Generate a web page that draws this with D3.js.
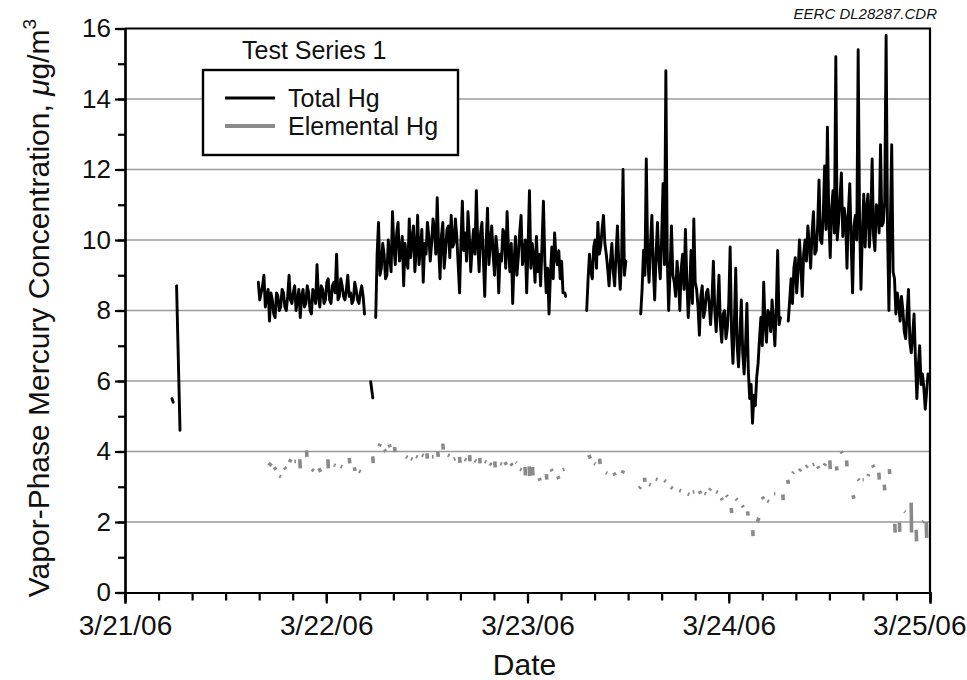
<!DOCTYPE html>
<html>
<head>
<meta charset="utf-8">
<script src="https://cdn.jsdelivr.net/npm/d3@7"></script>
<style>
  body { margin: 0; background: #fff; }
  text { font-family: "Liberation Sans", Arial, Helvetica, sans-serif; fill: #111; }
</style>
</head>
<body>
<div id="vis"></div>
<script>
// SVG geometry
var width = 967;
var height = 680;
var margin = { top: 28.5, left: 125, bottom: 87.5, right: 37 };
var w = width - margin.left - margin.right,
  h = height - margin.top - margin.bottom;

// data: hours after 3/21/06 00:00, 10-minute logger readings
var day0 = new Date(2006, 2, 21);
var dayEnd = new Date(2006, 2, 25);
var step = 1 / 6;

var totalC = [8.8, 8.3, 8.5, 8.7, 9.0, 8.1, 8.4, 8.6, 7.7, 8.5,
  8.3, 7.9, 7.8, 8.5, 8.4, 8.0, 8.1, 8.6, 8.5, 8.1,
  8.0, 8.4, 9.0, 8.3, 8.2, 8.5, 8.7, 8.0, 8.3, 8.6,
  7.8, 8.4, 8.6, 8.1, 8.2, 8.7, 8.5, 8.0, 7.9, 8.6,
  8.4, 8.2, 9.3, 8.4, 8.1, 8.7, 8.6, 8.2, 8.3, 8.8,
  8.9, 8.3, 8.2, 8.7, 8.8, 8.5, 9.6, 8.3, 8.4, 8.9,
  8.7, 8.4, 8.3, 8.6, 9.0, 8.4, 8.5, 8.2, 8.3, 8.8,
  8.6, 8.3, 8.2, 8.5, 8.7, 8.4, 7.9];
var totalE = [7.8, 9.6, 10.5, 9.0, 9.2, 9.9, 9.6, 8.9, 9.0, 10.0, 9.5, 9.1, 10.8, 9.8, 9.3,
  10.2, 10.5, 9.4, 9.6, 10.1, 8.7, 9.9, 9.4, 9.2, 10.6, 9.5, 10.0, 10.4, 9.1, 9.7, 10.7,
  9.3, 9.8, 10.3, 8.8, 9.9, 9.6, 10.5, 10.1, 9.4, 9.9, 10.6, 10.3, 9.6, 11.2, 9.8, 8.9,
  10.1, 10.5, 9.2, 9.7, 10.3, 10.4, 9.5, 10.7, 9.8, 9.9, 10.6, 10.1, 9.3, 8.5, 10.0, 11.1,
  9.7, 10.2, 9.4, 10.8, 10.1, 9.1, 9.8, 10.3, 9.6, 11.4, 9.9, 9.1, 10.2, 10.5, 9.5, 8.4,
  9.9, 10.9, 9.3, 9.9, 10.4, 9.6, 9.0, 10.1, 9.7, 8.5, 9.6, 9.4, 10.3, 10.2, 9.2, 10.8,
  9.7, 9.1, 9.9, 8.2, 9.4, 10.1, 9.0, 9.5, 10.2, 10.7, 9.3, 9.6, 10.0, 8.5, 9.8, 11.4,
  9.2, 9.9, 9.5, 8.8, 10.1, 9.1, 9.6, 8.7, 9.9, 11.1, 9.4, 8.5, 9.2, 7.9, 9.0, 9.8, 8.9,
  10.2, 9.5, 9.3, 9.7, 8.9, 9.4, 8.5];
var totalG = [8.0, 8.9, 9.6, 9.1, 8.9, 9.8, 10.0, 9.2, 10.5, 9.6, 9.8, 10.3, 10.7, 9.9, 9.6,
  9.2, 8.7, 9.4, 9.9, 9.1, 8.7, 9.6, 10.4, 9.3, 8.6, 9.5, 12.0, 9.0, 9.4];
var totalH = [7.9, 8.6, 9.7, 9.0, 12.3, 9.5, 8.8, 9.9, 10.7, 9.2, 8.3, 9.6, 10.5, 9.4, 8.9,
  10.1, 11.6, 9.3, 14.8, 9.5, 8.0, 9.1, 10.4, 9.0, 8.8, 8.4, 9.4, 8.9, 8.0, 9.2, 9.6, 8.6,
  10.3, 8.9, 7.8, 8.5, 9.7, 8.2, 10.6, 8.8, 8.6, 8.1, 7.3, 8.4, 8.7, 7.8, 8.0, 8.5, 8.6,
  8.2, 7.6, 8.3, 9.4, 8.0, 7.4, 8.1, 9.0, 7.6, 7.1, 7.9, 8.0, 7.2, 7.5, 8.2, 9.8, 7.4, 6.5,
  7.6, 9.2, 7.0, 6.4, 7.3, 8.3, 6.8, 6.2, 7.0, 8.2, 6.3, 5.5, 5.9, 4.8, 5.6, 5.3, 6.1, 6.5,
  7.2, 7.8, 7.0, 8.8, 7.6, 7.1, 8.0, 7.9, 7.4, 8.3, 7.7, 7.0, 8.1, 9.7, 7.6, 7.8];
var totalI = [7.7, 8.3, 8.9, 8.2, 9.2, 9.5, 8.5, 9.1, 10.0, 9.3, 8.4, 9.6, 10.0, 9.4, 10.4,
  9.9, 9.2, 10.2, 10.8, 9.6, 9.7, 10.4, 11.7, 10.0, 9.9, 10.7, 12.1, 10.3, 13.2, 10.6, 9.5,
  10.9, 11.4, 10.2, 15.2, 10.0, 10.5, 11.2, 11.9, 10.1, 10.9, 10.6, 9.2, 10.8, 11.6, 9.9,
  8.5, 10.4, 10.7, 10.0, 15.4, 10.6, 8.6, 10.2, 11.3, 9.8, 10.9, 11.3, 9.8, 10.5, 12.3,
  10.1, 9.7, 11.0, 10.9, 10.2, 12.7, 10.4, 10.5, 11.1, 15.8, 10.3, 8.0, 10.4, 12.7, 9.1,
  8.9, 7.9, 8.5, 8.2, 7.7, 8.4, 8.0, 7.4, 7.2, 7.9, 8.6, 7.1, 6.8, 7.3, 7.9, 6.6, 5.5,
  6.4, 7.0, 5.9, 6.2, 5.8, 5.2, 5.7, 6.2];
var totalStarts = [15.9, 29.9, 55.06, 61.5, 79.1];
// isolated short readings [hour, value]
var totalShort = [
  [[5.6, 5.5], [5.75, 5.4]],
  [[6.15, 8.7], [6.56, 4.6]],
  [[29.3, 5.98], [29.55, 5.52]],
  [[52.45, 8.5], [52.55, 8.4]]
];

// elemental Hg pieces [hour1, value1, hour2, value2]
var elemPieces = [
  [17.1, 3.67, 17.5, 3.6], [17.8, 3.55, 18.0, 3.48], [18.4, 3.3, 18.6, 3.28], [19.0, 3.55, 19.2, 3.5],
  [19.6, 3.7, 19.8, 3.78], [20.2, 3.72, 20.4, 3.72], [20.85, 3.78, 20.9, 3.52], [21.65, 4.03, 21.7, 3.85],
  [22.3, 3.5, 22.5, 3.45], [23.1, 3.52, 23.35, 3.42], [24.2, 3.78, 24.25, 3.52], [24.9, 3.62, 25.1, 3.6],
  [25.7, 3.58, 25.9, 3.56], [26.75, 3.82, 26.8, 3.66], [27.35, 3.55, 27.45, 3.45], [27.9, 3.45, 28.1, 3.42],
  [29.55, 3.86, 29.6, 3.67], [30.3, 4.15, 30.45, 4.22], [30.9, 4.05, 31.1, 4.0], [31.5, 4.2, 31.65, 4.12],
  [32.15, 4.13, 32.2, 3.98], [33.5, 3.86, 33.7, 3.83], [34.1, 3.8, 34.3, 3.78], [34.7, 3.86, 34.9, 3.84],
  [35.4, 3.9, 35.6, 3.88], [36.0, 3.95, 36.05, 3.8], [36.6, 3.85, 36.8, 3.85], [37.3, 4.0, 37.35, 3.85],
  [37.9, 4.22, 37.95, 4.05], [38.5, 3.9, 38.7, 3.88], [39.2, 3.78, 39.4, 3.8], [39.9, 3.85, 39.95, 3.68],
  [40.5, 3.78, 40.7, 3.75], [41.1, 3.9, 41.15, 3.72], [41.7, 3.75, 41.9, 3.72], [42.3, 3.82, 42.35, 3.66],
  [42.9, 3.72, 43.1, 3.7], [43.5, 3.66, 43.7, 3.62], [44.1, 3.72, 44.15, 3.55],
  [44.75, 3.66, 44.95, 3.64], [45.3, 3.7, 45.5, 3.62], [46.0, 3.66, 46.2, 3.6], [46.6, 3.7, 46.7, 3.68],
  [47.1, 3.5, 47.3, 3.48], [47.7, 3.56, 47.75, 3.32], [48.2, 3.58, 48.25, 3.3], [48.6, 3.56, 48.65, 3.32],
  [49.4, 3.25, 49.5, 3.17], [50.25, 3.36, 50.3, 3.2], [50.8, 3.5, 50.95, 3.44], [51.6, 3.3, 51.75, 3.22],
  [52.2, 3.48, 52.4, 3.5],
  [55.3, 3.9, 55.5, 3.8], [55.95, 3.66, 56.1, 3.64], [56.6, 3.8, 56.65, 3.64], [57.35, 3.4, 57.5, 3.38],
  [58.3, 3.4, 58.45, 3.32], [59.3, 3.38, 59.45, 3.46],
  [61.3, 2.95, 61.5, 3.0], [61.95, 3.26, 62.0, 3.14], [62.5, 3.07, 62.7, 3.05], [63.3, 3.22, 63.5, 3.2],
  [64.3, 3.18, 64.5, 3.15], [65.1, 2.99, 65.3, 2.95], [66.1, 2.9, 66.3, 2.88], [67.1, 2.8, 67.3, 2.78],
  [67.7, 2.85, 67.9, 2.86], [68.5, 2.88, 68.65, 2.8], [69.1, 2.82, 69.3, 2.8], [69.7, 2.9, 69.85, 2.95],
  [70.5, 2.86, 70.7, 2.84], [71.1, 2.68, 71.25, 2.62], [71.7, 2.76, 71.85, 2.72], [72.3, 2.4, 72.35, 2.25],
  [72.85, 2.66, 73.0, 2.62], [73.6, 2.47, 73.75, 2.42], [74.25, 2.3, 74.3, 2.18], [74.85, 1.77, 74.9, 1.6],
  [75.4, 2.0, 75.6, 2.12], [76.0, 2.72, 76.15, 2.65], [76.6, 2.6, 76.8, 2.58], [77.4, 2.8, 77.55, 2.8],
  [78.45, 2.78, 78.5, 2.62], [79.05, 3.2, 79.1, 3.08], [79.6, 3.38, 79.75, 3.42], [80.4, 3.45, 80.6, 3.5],
  [81.2, 3.56, 81.4, 3.6], [82.0, 3.62, 82.2, 3.64], [82.6, 3.58, 82.75, 3.52], [83.4, 3.6, 83.55, 3.66],
  [84.05, 3.75, 84.1, 3.5], [84.85, 3.58, 84.9, 3.46], [85.4, 4.0, 85.55, 3.95], [86.05, 3.75, 86.1, 3.58],
  [86.8, 2.76, 86.95, 2.66], [87.4, 3.22, 87.55, 3.18], [87.95, 3.2, 88.1, 3.2], [88.6, 3.3, 88.7, 3.36],
  [89.15, 3.62, 89.3, 3.55], [89.9, 3.4, 89.95, 3.2], [90.55, 3.06, 90.6, 2.9], [91.15, 3.5, 91.2, 3.36],
  [91.8, 1.95, 91.85, 1.7], [92.35, 1.98, 92.4, 1.72], [92.95, 2.3, 93.05, 2.28], [93.75, 2.55, 93.8, 1.7],
  [94.35, 1.78, 94.4, 1.45], [95.1, 2.0, 95.25, 2.02], [95.55, 2.0, 95.6, 1.55]
];

var yMajor = [0, 2, 4, 6, 8, 10, 12, 14, 16];
var yGrid = [2, 4, 6, 8, 10, 12, 14];

function hr(hh) { return new Date(day0.getTime() + hh * 3600e3); }

var x = d3.scaleTime().domain([day0, dayEnd]).range([0, w]);
var y = d3.scaleLinear().domain([0, 16]).range([h, 0]);

var svg = d3.select('#vis')
  .append('svg')
  .attr('width', width)
  .attr('height', height);

var g = svg.append('g')
  .attr('transform', 'translate(' + margin.left + ',' + margin.top + ')');

g.append('clipPath').attr('id', 'clip')
  .append('rect').attr('x', 0).attr('y', 0).attr('width', w).attr('height', h);

// gridlines
g.append('g').selectAll('line')
  .data(yGrid)
  .enter().append('line')
  .attr('x1', 0).attr('x2', w)
  .attr('y1', function(d) { return y(d); })
  .attr('y2', function(d) { return y(d); })
  .attr('stroke', '#9a9a9a')
  .attr('stroke-width', 1.6);

var line = d3.line()
  .x(function(d) { return x(hr(d[0])); })
  .y(function(d) { return y(d[1]); });

var plot = g.append('g').attr('clip-path', 'url(#clip)');

// elemental Hg
plot.append('g').selectAll('path')
  .data(elemPieces)
  .enter().append('path')
  .attr('d', function(d) { return line([[d[0], d[1]], [d[2], d[3]]]); })
  .attr('fill', 'none')
  .attr('stroke', '#8a8a8a')
  .attr('stroke-width', 3.6);

// total Hg
var runs = [totalC, totalE, totalG, totalH, totalI].map(function(vals, k) {
  return vals.map(function(v, i) { return [totalStarts[k] + i * step, v]; });
});
plot.append('g').selectAll('path')
  .data(runs.concat(totalShort))
  .enter().append('path')
  .attr('d', line)
  .attr('fill', 'none')
  .attr('stroke', '#000')
  .attr('stroke-width', 2.9)
  .attr('stroke-linejoin', 'round')
  .attr('stroke-linecap', 'round');

// axes
g.append('g').attr('transform', 'translate(0,' + h + ')')
  .call(d3.axisBottom(x).ticks(d3.timeHour.every(4)).tickSize(8).tickFormat(''));
var xMajor = g.append('g').attr('transform', 'translate(0,' + h + ')')
  .call(d3.axisBottom(x).ticks(d3.timeDay.every(1)).tickSize(11)
    .tickFormat(d3.timeFormat('%-m/%-d/%y')));
xMajor.selectAll('text').attr('font-size', 28).attr('dy', '1.0em');
// last label kept inside the picture
xMajor.selectAll('.tick').filter(function(d) { return +d === +dayEnd; })
  .select('text').attr('text-anchor', 'end').attr('x', 36);

g.append('g')
  .call(d3.axisLeft(y).ticks(16).tickSize(7).tickFormat(''));
var yAxis = g.append('g')
  .call(d3.axisLeft(y).tickValues(yMajor).tickSize(10).tickFormat(d3.format('d')));
yAxis.selectAll('text').attr('font-size', 26).attr('x', -14);

svg.selectAll('.domain, .tick line')
  .attr('stroke', '#000')
  .attr('stroke-width', 2.2);
svg.selectAll('.tick text').attr('fill', '#111');

// frame top and right
g.append('path')
  .attr('d', 'M0,0H' + w + 'V' + h)
  .attr('fill', 'none')
  .attr('stroke', '#000')
  .attr('stroke-width', 2.2);

// axis titles
svg.append('text')
  .attr('x', margin.left + w / 2 - 3)
  .attr('y', 675)
  .attr('text-anchor', 'middle')
  .attr('font-size', 30)
  .text('Date');

var yt = svg.append('text')
  .attr('transform', 'translate(49,' + 308 + ') rotate(-90)')
  .attr('text-anchor', 'middle')
  .attr('font-size', 30);
yt.append('tspan').text('Vapor-Phase Mercury Concentration, ');
yt.append('tspan').attr('font-style', 'italic').text('\u03bc');
yt.append('tspan').text('g/m');
yt.append('tspan').attr('font-size', 19).attr('dy', -13).text('3');

svg.append('text')
  .attr('x', 937).attr('y', 19)
  .attr('text-anchor', 'end')
  .attr('font-size', 15)
  .attr('font-style', 'italic')
  .text('EERC DL28287.CDR');

// legend
var lg = svg.append('g');
lg.append('text').attr('x', 242).attr('y', 59).attr('font-size', 25).text('Test Series 1');
lg.append('rect')
  .attr('x', 203).attr('y', 70).attr('width', 255).attr('height', 85)
  .attr('fill', '#fff').attr('stroke', '#000').attr('stroke-width', 2.4);
var items = [
  { name: 'Total Hg', color: '#000', sw: 3 },
  { name: 'Elemental Hg', color: '#8a8a8a', sw: 4 }
];
items.forEach(function(it, i) {
  var yy = 98 + i * 28;
  lg.append('line').attr('x1', 225).attr('x2', 275).attr('y1', yy).attr('y2', yy)
    .attr('stroke', it.color).attr('stroke-width', it.sw);
  lg.append('text').attr('x', 288).attr('y', yy + 8.5).attr('font-size', 25).text(it.name);
});
</script>
</body>
</html>
